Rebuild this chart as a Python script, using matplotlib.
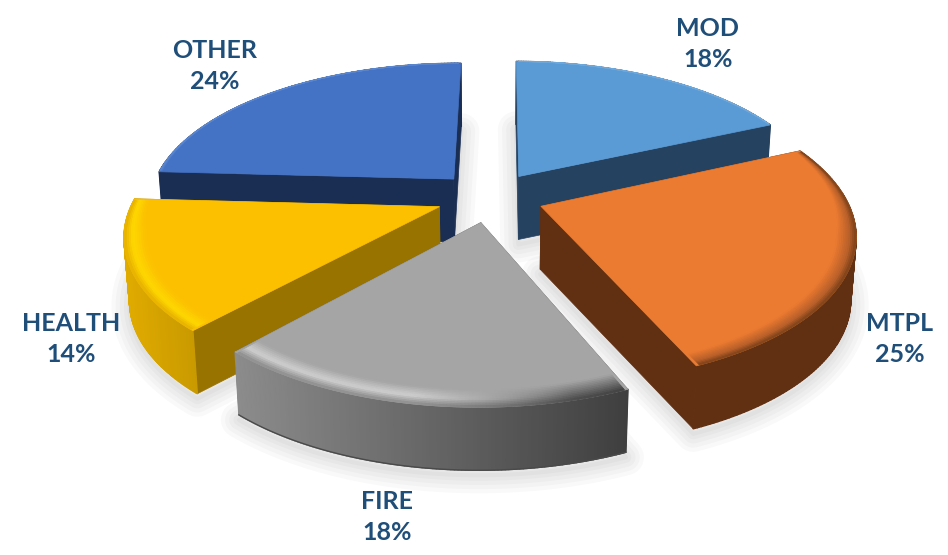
import numpy as np
import matplotlib
matplotlib.use("Agg")
import matplotlib.pyplot as plt
from matplotlib.collections import PolyCollection
from matplotlib.colors import to_rgb
from matplotlib.patches import Polygon

# Dados do gráfico
labels = ["MOD", "MTPL", "FIRE", "HEALTH", "OTHER"]
shares = [18, 25, 18, 14, 24]

# Cores de cada fatia
top_colors = ["#5b9bd5", "#eb7b30", "#a5a5a5", "#fcc000", "#4472c4"]
side_colors = ["#264261", "#612f11", "#555555", "#997300", "#1a2d52"]
wall_left = ["#264261", "#612f11", "#8c8c8c", "#e0ab00", "#1a2d52"]
wall_right = ["#264261", "#612f11", "#3f3f3f", "#c99a00", "#1a2d52"]
# Chanfro na borda: (raio, cor) de dentro para fora
bevels = [
    [(0.985, "#5b9bd5"), (1.0, "#6fa8dc")],
    [(0.94, "#eb7b30"), (0.98, "#b9602a"), (1.0, "#7d4219")],
    [(0.92, "#a5a5a5"), (0.965, "#cfcfcf"), (1.0, "#8c8c8c")],
    [(0.93, "#fcc000"), (0.975, "#ffd800"), (1.0, "#e6b000")],
    [(0.985, "#4472c4"), (1.0, "#5a86d0")],
]
draw_order = [0, 4, 3, 1, 2]

# Posição dos rótulos
label_pos = [(708, 44), (900, 339), (387, 517), (71, 339), (215, 66)]

# Parâmetros da projeção em perspectiva
cx, cy = 490, 197
sx_scale, sy_scale = 305, 142
persp = 0.176
explode = 0.177
height = 63
taper = 0.015
start_angle = np.radians(0.4)


def project(x, z, h=0.0):
    w = 1 + persp * np.asarray(z)
    px = cx + sx_scale * np.asarray(x) / w
    py = cy - sy_scale * np.asarray(z) / w
    px = cx + (px - cx) * (1 - taper * h / height)
    return px, py + h


def wedge_xy(a0, b0, t, r=1.0):
    return a0 + r * np.sin(t), b0 + r * np.cos(t)


def fill(ax, px, py, color, z):
    ax.add_patch(Polygon(np.column_stack([px, py]), closed=True, facecolor=color,
                         edgecolor=color, linewidth=0.5, zorder=z))


def wall_color(i, tx):
    left = np.array(to_rgb(wall_left[i]))
    right = np.array(to_rgb(wall_right[i]))
    # A parede escurece da esquerda para a direita
    t0, t1 = x_range[i]
    frac = np.clip((tx - t0) / (t1 - t0), 0, 1)
    return left + (right - left) * frac


def smooth(v, lo, hi):
    return np.clip((v - lo) / (hi - lo), 0, 1)


fig = plt.figure(figsize=(9.48, 5.55), dpi=100)
ax = fig.add_axes([0, 0, 1, 1])
ax.set_xlim(0, 948)
ax.set_ylim(555, 0)
ax.axis("off")

total = sum(shares)
edges = start_angle + np.concatenate([[0], np.cumsum(shares)]) / total * 2 * np.pi
x_range = {}

# Sombra suave no chão, antes de todas as fatias
for i in range(len(shares)):
    t = np.linspace(edges[i], edges[i + 1], 60)
    mid = (edges[i] + edges[i + 1]) / 2
    a0, b0 = explode * np.sin(mid), explode * np.cos(mid)
    x, z = wedge_xy(a0, b0, t)
    px, py = project(np.r_[a0, x], np.r_[b0, z], height)
    for lw in [26, 20, 14, 8, 3]:
        ax.add_patch(Polygon(np.column_stack([px, py + 5]), closed=True, facecolor="none",
                             edgecolor="black", alpha=0.022, linewidth=lw, joinstyle="round", zorder=1))

# Cada fatia: parede de trás, cortes, parede da frente, topo e chanfro
zbase = 2
for i in draw_order:
    t = np.linspace(edges[i], edges[i + 1], 120)
    mid = (edges[i] + edges[i + 1]) / 2
    a0, b0 = explode * np.sin(mid), explode * np.cos(mid)
    x, z = wedge_xy(a0, b0, t)
    tx, ty = project(x, z)
    bx, by = project(x, z, height)
    x_range[i] = (tx.min(), tx.max())

    apx, apy = project(a0, b0)
    apbx, apby = project(a0, b0, height)

    back, front, back_cols, front_cols = [], [], [], []
    for k in range(len(t) - 1):
        quad = [(tx[k], ty[k]), (tx[k + 1], ty[k + 1]), (bx[k + 1], by[k + 1]), (bx[k], by[k])]
        if np.cos(t[k]) > 0.05:
            back.append(quad)
            back_cols.append(wall_color(i, tx[k]))
        else:
            front.append(quad)
            front_cols.append(wall_color(i, tx[k]))
    if back:
        ax.add_collection(PolyCollection(back, facecolors=back_cols, edgecolors=back_cols,
                                         linewidths=1.0, zorder=zbase + 0.05))
    for j in [0, -1]:
        fill(ax, [apx, tx[j], bx[j], apbx], [apy, ty[j], by[j], apby], side_colors[i], zbase + 0.1)
    if front:
        ax.add_collection(PolyCollection(front, facecolors=front_cols, edgecolors=front_cols,
                                         linewidths=1.0, zorder=zbase + 0.15))

    # Linha escura na base da fatia cinza
    if i == 2:
        ax.plot(bx, by, color="#4a4a4a", lw=1.0, zorder=zbase + 0.16)

    fill(ax, np.r_[apx, tx], np.r_[apy, ty], top_colors[i], zbase + 0.2)

    # Faixas do chanfro, mais largas na frente e finas atrás
    stops = bevels[i]
    rs = np.linspace(stops[0][0], 1.0, 12)
    srs = [s[0] for s in stops]
    scs = np.array([to_rgb(s[1]) for s in stops])
    top_rgb = np.array(to_rgb(top_colors[i]))
    tb = np.linspace(edges[i] + 0.01, edges[i + 1] - 0.01, 120)
    narrow = 0.2 + 0.8 * smooth(-np.cos(tb), -0.45, 0.2)
    quads = []
    cols = []
    for r1, r2 in zip(rs[:-1], rs[1:]):
        x1, z1 = wedge_xy(a0, b0, tb, 1 - (1 - r1) * narrow)
        x2, z2 = wedge_xy(a0, b0, tb, 1 - (1 - r2) * narrow)
        p1x, p1y = project(x1, z1)
        p2x, p2y = project(x2, z2)
        rm = (r1 + r2) / 2
        base = np.array([np.interp(rm, srs, scs[:, c]) for c in range(3)])
        frac = (rm - rs[0]) / (1 - rs[0])
        for k in range(len(tb) - 1):
            col = base
            # No canto direito da fatia cinza o brilho some e o topo desce direto para a parede
            if i == 2:
                s = smooth(np.degrees(tb[k]), 165, 190)
                dark = top_rgb + (wall_color(i, p2x[k]) - top_rgb) * frac
                col = s * base + (1 - s) * dark
            quads.append([(p1x[k], p1y[k]), (p1x[k + 1], p1y[k + 1]), (p2x[k + 1], p2y[k + 1]), (p2x[k], p2y[k])])
            cols.append(col)
    ax.add_collection(PolyCollection(quads, facecolors=cols, edgecolors=cols, linewidths=0.6, zorder=zbase + 0.3))
    zbase += 1

# Rótulos de nome e percentual
for name, val, (lx, ly) in zip(labels, shares, label_pos):
    ax.text(lx, ly, f"{name}\n{val}%", ha="center", va="center", color="#1f4e79",
            fontsize=18, fontweight="bold", family="Lato", linespacing=1.4, zorder=20)

fig.savefig("out.png", dpi=100, facecolor="white")
